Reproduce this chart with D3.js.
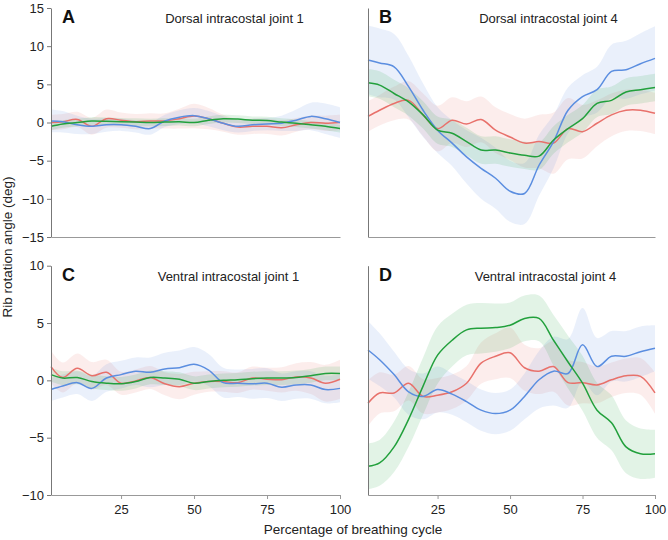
<!DOCTYPE html>
<html><head><meta charset="utf-8">
<script src="https://cdn.jsdelivr.net/npm/d3@7"></script>
<style>body{margin:0;background:#fff;font-family:"Liberation Sans",Arial,sans-serif;}</style>
</head><body><svg id="c" width="668" height="540"></svg>
<script>
const xs = [1,5,10,15,20,25,30,35,40,45,50,55,60,65,70,75,80,85,90,95,100];
const xTicks = [25,50,75,100];
const panelLabels = ["A","B","C","D"];
const panelTitles = ["Dorsal intracostal joint 1","Dorsal intracostal joint 4","Ventral intracostal joint 1","Ventral intracostal joint 4"];
const seriesNames = ["red","blue","green"];
const seriesColors = ["#e8716b","#5b8ee0","#22a03c"];
// Panel A
const aRed   = [0,0.1,0.4,-0.5,0.5,0.3,0.1,0.2,0.2,0.5,0.85,0.5,-0.1,-0.6,-0.5,-0.5,-0.7,-0.3,0,-0.1,0];
const aRedSd = [1,1,1,1.1,1.2,1,1,1,1,1.3,1.6,1.4,1.1,1,1,1,1,0.9,0.9,1,1];
const aBlue  = [0.2,0.1,-0.3,-0.5,-0.3,-0.3,-0.5,-0.8,0.2,0.7,0.9,0.5,-0.1,-0.5,-0.3,-0.2,-0.1,0.3,0.8,0.5,0];
const aBlueSd= [1.5,1.4,1.2,1,0.9,0.8,0.8,0.8,0.8,0.9,1,1,0.9,0.8,0.8,0.8,1,1.4,1.8,2,2];
const aGreen = [-0.5,-0.2,0,0.2,0.15,0.1,0.05,0,0.05,0.1,0,0.3,0.5,0.45,0.3,0.25,0.05,-0.1,-0.3,-0.5,-0.8];
const aGreenSd=[0.5,0.5,0.5,0.5,0.5,0.5,0.5,0.5,0.5,0.5,0.5,0.5,0.5,0.5,0.5,0.5,0.5,0.5,0.5,0.5,0.5];
// Panel B
const bRed   = [0.8,1.6,2.5,2.9,1.0,-0.8,0.3,-0.2,0.4,-1.0,-1.9,-2.7,-2.5,-2.7,-0.8,-1.2,-0.1,1.0,1.6,1.6,1.2];
const bRedSd = [2,2,2.2,2.5,2.8,3,3,3,3,3,3,3.2,3.5,4,4,3.5,3,2.8,2.7,2.7,2.7];
const bBlue  = [8.2,7.8,7.3,4.7,1.6,-1.0,-2.7,-4.5,-6.0,-7.3,-9.0,-9.3,-5.6,-2.5,1.6,3.4,4.3,6.7,6.9,7.7,8.4];
const bBlueSd= [4.5,4.5,4.3,4,3.5,3,3,3.5,4,4,4,4,4,3.5,3,2.8,3,3.5,3.8,4,4.2];
const bGreen = [5.2,4.9,3.8,2.7,1.0,-1.0,-1.4,-2.5,-3.6,-3.6,-4.0,-4.3,-4.4,-2.3,-0.8,0.5,2.5,2.9,4.0,4.3,4.6];
const bGreenSd=[1.8,1.8,1.8,1.8,1.8,1.8,1.8,1.8,1.8,1.8,1.8,1.8,1.8,1.8,1.8,1.8,1.8,1.8,1.8,1.8,1.8];
// Panel C
const cRed   = [1.2,0.25,1.05,0.4,0.7,-0.25,-0.05,0.25,-0.3,-0.55,-0.25,-0.1,-0.1,-0.2,0.2,0.1,0.05,0.3,0.2,-0.25,0.1];
const cRedSd = [1.4,1.3,1.3,1.2,1.1,1,1,1,1,1.1,1,0.9,0.9,0.9,1,1,1.1,1.2,1.4,1.6,1.7];
const cBlue  = [-0.8,-0.5,-0.2,-0.7,0.2,0.5,0.8,0.7,1.0,1.1,1.4,0.9,-0.2,-0.25,-0.3,-0.25,-0.6,-0.4,-0.4,-0.8,-0.7];
const cBlueSd= [1,1,1,1.1,1.2,1.2,1.2,1.3,1.4,1.5,1.5,1.4,1.3,1.2,1.3,1.3,1.2,1.2,1.2,1.2,1.2];
const cGreen = [0.5,0.2,0.25,-0.1,-0.25,-0.3,-0.1,0.25,0.2,0.1,-0.25,-0.1,0,0.05,0.15,0.2,0.2,0.25,0.4,0.6,0.6];
const cGreenSd=[0.6,0.6,0.6,0.6,0.6,0.6,0.6,0.6,0.6,0.6,0.6,0.6,0.6,0.6,0.6,0.6,0.6,0.6,0.6,0.6,0.6];
// Panel D
const dRed   = [-2.0,-1.1,-1.1,-0.25,-1.4,-1.3,-1.0,-0.25,1.5,2.1,2.4,1.1,0.8,1.2,-0.2,-0.2,-0.4,0.05,0.4,0.35,-1.1];
const dRedSd = [2,1.8,1.6,1.5,1.5,1.5,1.5,1.5,1.8,2,2.2,2,2,2.2,2,1.8,1.6,1.5,1.5,1.6,1.8];
const dBlue  = [2.65,1.8,0.5,-1.0,-1.4,-0.8,-1.2,-1.85,-2.6,-2.9,-2.6,-1.4,0.05,0.8,0.6,3.1,1.2,2.1,2.1,2.5,2.8];
const dBlueSd= [2.5,2.3,2,2,2,2,1.8,1.8,1.8,1.8,1.8,2,2.5,3,3,3.2,2.5,2.2,2.2,2.2,2];
const dGreen = [-7.5,-7.2,-5.8,-3.4,-0.5,2.2,3.5,4.4,4.55,4.6,4.8,5.4,5.4,3.5,1.6,-0.25,-2.6,-3.7,-5.8,-6.4,-6.4];
const dGreenSd=[2,2,2.2,2.4,2.5,2.5,2.3,2.2,2.2,2.1,2,2,2,2.2,2.3,2.4,2.4,2.4,2.3,2.2,2.1];

const yTicksTop = [-15,-10,-5,0,5,10,15];
const yTicksBot = [-10,-5,0,5,10];

const panels = [
  {label:panelLabels[0], title:panelTitles[0], x0:51, x1:340, yTop:8, yBot:237, dom:[-15,15], ticks:yTicksTop, showY:true, showX:false, tdx:39, series:[[aRed,aRedSd],[aBlue,aBlueSd],[aGreen,aGreenSd]]},
  {label:panelLabels[1], title:panelTitles[1], x0:368, x1:655, yTop:8, yBot:237, dom:[-15,15], ticks:yTicksTop, showY:false, showX:false, tdx:37, series:[[bRed,bRedSd],[bBlue,bBlueSd],[bGreen,bGreenSd]]},
  {label:panelLabels[2], title:panelTitles[2], x0:51, x1:340, yTop:265.7, yBot:495, dom:[-10,10], ticks:yTicksBot, showY:true, showX:true, tdx:33, series:[[cRed,cRedSd],[cBlue,cBlueSd],[cGreen,cGreenSd]]},
  {label:panelLabels[3], title:panelTitles[3], x0:368, x1:655, yTop:265.7, yBot:495, dom:[-10,10], ticks:yTicksBot, showY:false, showX:true, tdx:34, series:[[dRed,dRedSd],[dBlue,dBlueSd],[dGreen,dGreenSd]]}
];

const svg = d3.select("#c");
const font = '"Liberation Sans",Arial,sans-serif';

panels.forEach(p => {
  const x = d3.scaleLinear().domain([1,100]).range([p.x0, p.x1]);
  const y = d3.scaleLinear().domain(p.dom).range([p.yBot, p.yTop]);
  const g = svg.append("g");
  p.series.forEach((s, i) => {
    const [m, sd] = s;
    const pts = xs.map((xv, k) => ({x:xv, m:m[k], sd:sd[k]}));
    const area = d3.area().x(d => x(d.x)).y0(d => y(d.m - d.sd)).y1(d => y(d.m + d.sd)).curve(d3.curveCatmullRom);
    g.append("path").datum(pts).attr("d", area).attr("fill", seriesColors[i]).attr("fill-opacity", 0.13).attr("stroke","none");
  });
  p.series.forEach((s, i) => {
    const [m] = s;
    const pts = xs.map((xv, k) => ({x:xv, m:m[k]}));
    const line = d3.line().x(d => x(d.x)).y(d => y(d.m)).curve(d3.curveCatmullRom);
    g.append("path").datum(pts).attr("d", line).attr("fill","none").attr("stroke", seriesColors[i]).attr("stroke-width", 1.5);
  });
  const yAx = g.append("g").attr("transform", `translate(${p.x0},0)`);
  if (p.showY) {
    yAx.call(d3.axisLeft(y).tickValues(p.ticks).tickSize(4).tickSizeOuter(0));
  } else {
    yAx.call(d3.axisLeft(y).tickValues([]).tickSizeOuter(0));
  }
  yAx.select(".domain").attr("stroke","#777");
  yAx.selectAll(".tick line").attr("stroke","#777");
  yAx.selectAll("text").attr("font-size",13).attr("font-family",font).attr("fill","#222");
  const xAx = g.append("g").attr("transform", `translate(0,${p.yBot})`);
  if (p.showX) {
    xAx.call(d3.axisBottom(x).tickValues(xTicks).tickSize(4).tickSizeOuter(0).tickPadding(6));
  } else {
    xAx.call(d3.axisBottom(x).tickValues([]).tickSizeOuter(0));
  }
  xAx.select(".domain").attr("stroke","#999");
  xAx.selectAll(".tick line").attr("stroke","#999");
  xAx.selectAll("text").attr("font-size",13).attr("font-family",font).attr("fill","#222");
  g.append("text").attr("x", p.x0 + 11).attr("y", p.yTop + 15).text(p.label)
    .attr("font-size",18).attr("font-weight","bold").attr("font-family",font).attr("fill","#111");
  g.append("text").attr("x", (p.x0 + p.x1)/2 + p.tdx).attr("y", p.yTop + 15).text(p.title)
    .attr("text-anchor","middle").attr("font-size",13).attr("font-family",font).attr("fill","#222");
});

svg.append("text").attr("transform","translate(12,247) rotate(-90)").attr("text-anchor","middle")
  .attr("font-size",13.5).attr("font-family",font).attr("fill","#222").text("Rib rotation angle (deg)");
svg.append("text").attr("x",353).attr("y",534).attr("text-anchor","middle")
  .attr("font-size",13.5).attr("font-family",font).attr("fill","#222").text("Percentage of breathing cycle");
</script></body></html>
